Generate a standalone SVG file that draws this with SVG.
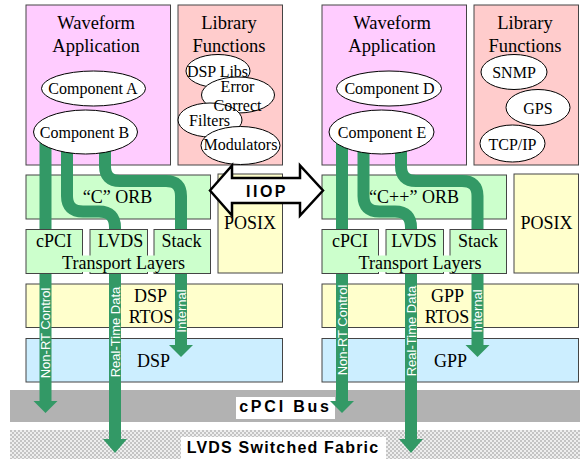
<svg xmlns="http://www.w3.org/2000/svg" width="582" height="459" viewBox="0 0 582 459">
<style>
.box{stroke:#444;stroke-width:1}
.app{fill:#ffccff}
.lib{fill:#ffcccc}
.grn{fill:#ccffcc}
.yel{fill:#ffffcc}
.blu{fill:#cceeff}
.ell{fill:#fff;stroke:#000;stroke-width:1}
.t{font-family:"Liberation Serif","Times New Roman",serif;fill:#000;text-anchor:middle}
.t18{font-size:18.5px}
.t16{font-size:16px}
.t17{font-size:18px}
.flow{fill:none;stroke:#339966;stroke-width:12}
.head{fill:#339966}
.fl{font-family:"Liberation Sans",Arial,sans-serif;font-size:13px;fill:#fff;text-anchor:middle}
.bus{font-family:"Liberation Sans",Arial,sans-serif;font-weight:bold;font-size:16px;fill:#000;text-anchor:middle}
</style>
<defs>
<pattern id="chk" width="4" height="4" patternUnits="userSpaceOnUse">
<rect width="4" height="4" fill="#eeeeee"/>
<rect width="2" height="2" fill="#c4c4c4"/>
<rect x="2" y="2" width="2" height="2" fill="#c4c4c4"/>
</pattern>
</defs>

<!-- Left node stack -->
<g id="waveform-app-left">
<rect class="box app" x="26" y="5" width="144.5" height="160"/>
<text class="t t18" x="96" y="29">Waveform</text>
<text class="t t18" x="96" y="52">Application</text>
</g>
<g id="component-a">
<ellipse class="ell" cx="93.5" cy="88.5" rx="52" ry="17.5"/>
<text class="t t16" x="93" y="94">Component A</text>
</g>
<g id="library-left">
<rect class="box lib" x="178" y="5" width="104.5" height="160"/>
<text class="t t18" x="229" y="29">Library</text>
<text class="t t18" x="229" y="52">Functions</text>
<ellipse class="ell" cx="218" cy="71" rx="32" ry="16.5"/>
<ellipse class="ell" cx="238" cy="95" rx="36.5" ry="18"/>
<ellipse class="ell" cx="210" cy="120" rx="32" ry="17"/>
<ellipse class="ell" cx="240.5" cy="145.5" rx="39.5" ry="19"/>
<text class="t t16" x="217.5" y="77">DSP Libs</text>
<text class="t t16" x="237.5" y="92">Error</text>
<text class="t t16" x="237.5" y="110.5">Correct</text>
<text class="t t16" x="209.5" y="126">Filters</text>
<text class="t t16" x="240.5" y="150">Modulators</text>
</g>
<g id="posix-left">
<rect class="box yel" x="218" y="174" width="64.5" height="99"/>
<text class="t t17" x="250" y="229">POSIX</text>
</g>
<g id="orb-left">
<rect class="box grn" x="26" y="175" width="184.5" height="44"/>
<text class="t t17" x="117.5" y="203">“C” ORB</text>
</g>
<g id="rtos-left">
<rect class="box yel" x="26" y="284" width="256.5" height="43.5"/>
<text class="t t17" x="150.5" y="301.5">DSP</text>
<text class="t t17" x="151" y="323">RTOS</text>
</g>
<g id="dsp">
<rect class="box blu" x="26" y="338.5" width="256.5" height="43.5"/>
<text class="t t17" x="153.5" y="366.5">DSP</text>
</g>

<!-- Right node stack -->
<g id="waveform-app-right">
<rect class="box app" x="322" y="5" width="144.5" height="160"/>
<text class="t t18" x="392" y="29">Waveform</text>
<text class="t t18" x="392" y="52">Application</text>
</g>
<g id="component-d">
<ellipse class="ell" cx="389" cy="88.5" rx="52.5" ry="17.5"/>
<text class="t t16" x="389.5" y="94">Component D</text>
</g>
<g id="library-right">
<rect class="box lib" x="474" y="5" width="104.5" height="160"/>
<text class="t t18" x="525" y="29">Library</text>
<text class="t t18" x="525" y="52">Functions</text>
<ellipse class="ell" cx="514" cy="72" rx="33" ry="17.5"/>
<text class="t t16" x="514" y="77.5">SNMP</text>
<ellipse class="ell" cx="538" cy="107.5" rx="32" ry="18"/>
<text class="t t16" x="538" y="113.5">GPS</text>
<ellipse class="ell" cx="512.5" cy="143.5" rx="32.5" ry="18.5"/>
<text class="t t16" x="512.5" y="149.5">TCP/IP</text>
</g>
<g id="posix-right">
<rect class="box yel" x="514" y="174" width="64.5" height="99"/>
<text class="t t17" x="546.5" y="229">POSIX</text>
</g>
<g id="orb-right">
<rect class="box grn" x="322" y="175" width="184.5" height="44"/>
<text class="t t17" x="414" y="203">“C++” ORB</text>
</g>
<g id="rtos-right">
<rect class="box yel" x="322" y="284" width="256.5" height="43.5"/>
<text class="t t17" x="447.5" y="301.5">GPP</text>
<text class="t t17" x="447" y="323">RTOS</text>
</g>
<g id="gpp">
<rect class="box blu" x="322" y="338.5" width="256.5" height="43.5"/>
<text class="t t17" x="450.5" y="366.5">GPP</text>
</g>

<!-- Buses -->
<g id="cpci-bus">
<rect x="10" y="390" width="570" height="32" fill="#b2b2b2"/>
<rect x="236" y="397" width="99" height="22" fill="#fff"/>
<text class="bus" x="285.5" y="412" letter-spacing="2.8">cPCI Bus</text>
</g>
<g id="lvds-fabric">
<rect x="10" y="430" width="570" height="29" fill="url(#chk)"/>
<rect x="181" y="437" width="205" height="22" fill="#fff"/>
<text class="bus" x="283" y="452.5" letter-spacing="1.2">LVDS Switched Fabric</text>
</g>

<!-- Connectors -->
<g id="connectors">
<path class="flow" d="M45.5,140 V402"/>
<polygon class="head" points="33.5,401 57.5,401 45.5,413"/>
<path class="flow" d="M67,140 V196 Q67,211.5 83,211.5 H99 Q115,211.5 115,227.5 V440"/>
<polygon class="head" points="103,439 127,439 115,453"/>
<path class="flow" d="M105,140 V166 Q105,181 120,181 H166 Q181,181 181,196 V346"/>
<polygon class="head" points="169,345 193,345 181,357"/>
<text class="fl" transform="translate(45.5,333) rotate(-90)" dy="0.36em">Non-RT Control</text>
<text class="fl" transform="translate(115,332) rotate(-90)" dy="0.36em">Real-Time Data</text>
<text class="fl" transform="translate(181,311) rotate(-90)" dy="0.36em">Internal</text>

<path class="flow" d="M342,140 V402"/>
<polygon class="head" points="330,401 354,401 342,413"/>
<path class="flow" d="M363.5,140 V196 Q363.5,211.5 379.5,211.5 H395 Q411,211.5 411,227.5 V440"/>
<polygon class="head" points="399,439 423,439 411,453"/>
<path class="flow" d="M401,140 V166 Q401,181 416,181 H462 Q477.5,181 477.5,196 V346"/>
<polygon class="head" points="465.5,345 489.5,345 477.5,357"/>
<text class="fl" transform="translate(342,330) rotate(-90)" dy="0.36em">Non-RT Control</text>
<text class="fl" transform="translate(411,331) rotate(-90)" dy="0.36em">Real-Time Data</text>
<text class="fl" transform="translate(477.5,311) rotate(-90)" dy="0.36em">Internal</text>
</g>

<!-- Transport layers (drawn over the flows) -->
<g id="transport-left">
<rect class="box grn" x="26" y="229.5" width="56.5" height="44"/>
<rect class="box grn" x="90" y="229.5" width="57.5" height="44"/>
<rect class="box grn" x="154" y="229.5" width="56.5" height="44"/>
<rect x="58" y="255.5" width="131" height="16.5" fill="#ccffcc"/>
<text class="t t17" x="54" y="247">cPCI</text>
<text class="t t17" x="120.5" y="247">LVDS</text>
<text class="t t17" x="181.5" y="247">Stack</text>
<text class="t t17" x="123.5" y="268.5">Transport Layers</text>
</g>
<g id="transport-right">
<rect class="box grn" x="322" y="229.5" width="56.5" height="44"/>
<rect class="box grn" x="386" y="229.5" width="57.5" height="44"/>
<rect class="box grn" x="450" y="229.5" width="56.5" height="44"/>
<rect x="354" y="255.5" width="131" height="16.5" fill="#ccffcc"/>
<text class="t t17" x="350" y="247">cPCI</text>
<text class="t t17" x="414" y="247">LVDS</text>
<text class="t t17" x="478" y="247">Stack</text>
<text class="t t17" x="420" y="268.5">Transport Layers</text>
</g>

<g id="component-b">
<ellipse class="ell" cx="85.5" cy="132" rx="52" ry="22"/>
<text class="t t16" x="84.5" y="137.5">Component B</text>
</g>
<g id="component-e">
<ellipse class="ell" cx="381.5" cy="132" rx="52.5" ry="22"/>
<text class="t t16" x="382" y="137.5">Component E</text>
</g>

<g id="iiop">
<polygon points="210,190.5 232,165.5 232,178 300,178 300,165.5 323,190.5 300,215.5 300,203 232,203 232,215.5" fill="#fff" stroke="#000" stroke-width="2.5" stroke-linejoin="miter"/>
<text class="bus" x="267" y="196.5" letter-spacing="2.5">IIOP</text>
</g>
</svg>
